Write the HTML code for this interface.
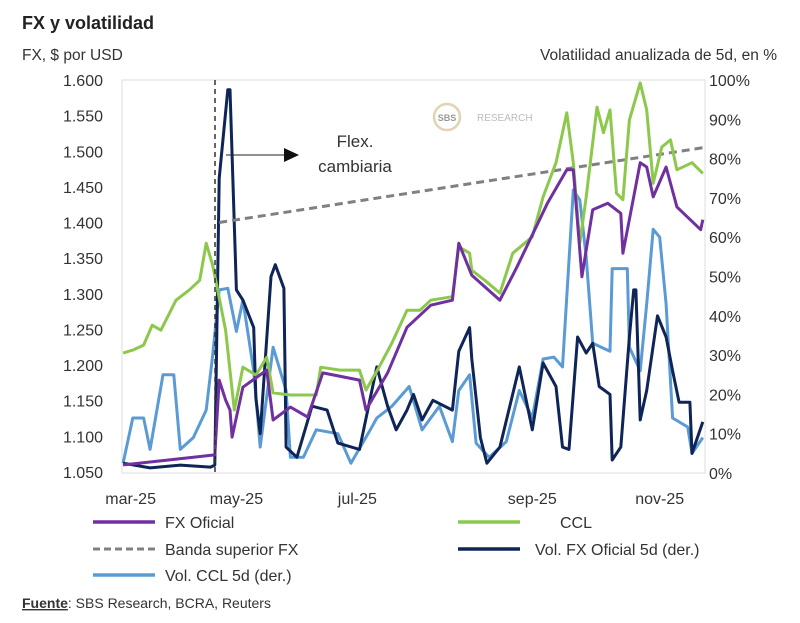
<!DOCTYPE html>
<html><head><meta charset="utf-8"><style>
body{margin:0;background:#fff;width:800px;height:618px;overflow:hidden;font-family:"Liberation Sans",sans-serif}
</style></head><body>
<svg id="c" width="800" height="618" xmlns="http://www.w3.org/2000/svg" font-family="Liberation Sans, sans-serif">
<text x="22" y="29" font-size="18" font-weight="bold" fill="#222">FX y volatilidad</text>
<text x="22" y="60" font-size="15.5" fill="#333">FX, $ por USD</text>
<text x="777" y="60" font-size="15.5" fill="#333" text-anchor="end">Volatilidad anualizada de 5d, en %</text>
<rect x="122" y="80" width="583" height="393" fill="none" stroke="#ddd"/>
<g>
<circle cx="447" cy="117" r="13" fill="none" stroke="#e3d3b5" stroke-width="2.5"/>
<text x="447" y="121" font-size="9" font-weight="bold" fill="#999" text-anchor="middle">SBS</text>
<text x="477" y="121" font-size="10" fill="#bbb">RESEARCH</text>
</g>
<g id="axes"></g>
<g id="series"></g>
<line x1="215" y1="80" x2="215" y2="473" stroke="#333" stroke-width="1.5" stroke-dasharray="5,4"/>
<line x1="226" y1="155" x2="285" y2="155" stroke="#222" stroke-width="1"/>
<polygon points="284,148 299,155 284,162" fill="#111"/>
<text x="355" y="147" font-size="17" fill="#333" text-anchor="middle">Flex.</text>
<text x="355" y="172" font-size="17" fill="#333" text-anchor="middle">cambiaria</text>
<g>
<line x1="93" y1="522" x2="155" y2="522" stroke="#7030a0" stroke-width="3.5"/>
<text x="165" y="528" font-size="16" fill="#333">FX Oficial</text>
<line x1="458" y1="522" x2="520" y2="522" stroke="#8cc84b" stroke-width="3.5"/>
<text x="560" y="528" font-size="16" fill="#333">CCL</text>
<line x1="93" y1="549" x2="155" y2="549" stroke="#808080" stroke-width="3" stroke-dasharray="7,4"/>
<text x="165" y="555" font-size="16" fill="#333">Banda superior FX</text>
<line x1="458" y1="549" x2="520" y2="549" stroke="#0f2557" stroke-width="3.5"/>
<text x="535" y="555" font-size="16" fill="#333">Vol. FX Oficial 5d (der.)</text>
<line x1="93" y1="575" x2="155" y2="575" stroke="#5b9bd5" stroke-width="3.5"/>
<text x="165" y="581" font-size="16" fill="#333">Vol. CCL 5d (der.)</text>
</g>
<text x="22" y="608" font-size="14" fill="#333"><tspan font-weight="bold" text-decoration="underline">Fuente</tspan>: SBS Research, BCRA, Reuters</text>
</svg>
<script>
const leftTicks=["1.050","1.100","1.150","1.200","1.250","1.300","1.350","1.400","1.450","1.500","1.550","1.600"];
const leftTickVals=[1.05,1.10,1.15,1.20,1.25,1.30,1.35,1.40,1.45,1.50,1.55,1.60];
const rightTicks=["0%","10%","20%","30%","40%","50%","60%","70%","80%","90%","100%"];
const rightTickVals=[0,10,20,30,40,50,60,70,80,90,100];
const xTickLabels=["mar-25","may-25","jul-25","sep-25","nov-25"];
const xTickDays=[4,53,109,190,249];
const cclDays=[0.5,5,10,14,18,25,31,36,39,42,44,48,52,56,62,67,70,78,90,92,101,110,113,119,125,132,138,143,153,156,161,162,168,175,181,190,195,201,206,209,212,215,220,223,226,229,232,235,240,243,246,250,254,257,264,269];
const cclVals=[1.217,1.221,1.228,1.256,1.249,1.291,1.305,1.319,1.371,1.340,1.310,1.249,1.137,1.197,1.186,1.211,1.161,1.158,1.158,1.197,1.193,1.193,1.165,1.197,1.231,1.277,1.277,1.291,1.296,1.366,1.357,1.333,1.319,1.301,1.357,1.380,1.436,1.484,1.554,1.484,1.371,1.436,1.562,1.526,1.558,1.441,1.432,1.544,1.596,1.558,1.455,1.506,1.516,1.474,1.484,1.469];
const fxDays=[0.5,22,43,45,48,50,51,56,67,70,78,86,93,110,113,123,132,143,153,156,162,175,183,197,206,209,213,218,225,231,232,237,240,243,246,252,257,268,269];
const fxVals=[1.060,1.067,1.074,1.179,1.151,1.137,1.099,1.169,1.193,1.123,1.141,1.127,1.189,1.179,1.137,1.189,1.253,1.284,1.291,1.371,1.326,1.291,1.338,1.427,1.474,1.474,1.324,1.418,1.427,1.413,1.357,1.436,1.484,1.478,1.436,1.478,1.422,1.390,1.404];
const bandDays=[45,269];
const bandVals=[1.400,1.505];
const volFxDays=[0.5,13,27,41,43,45,49,50,53,56,61,62,64,69,71,75,76,81,88,95,100,110,118,123,127,132,135,139,144,153,156,161,162,166,169,175,184,190,195,201,204,207,211,215,218,221,226,227,231,235,237,238,240,243,248,252,255,258,263,264,269];
const volFxVals=[2.5,1.3,2,1.5,2,75,97.5,97.5,46.6,44,37,19,10,50,53,47,6.6,4,17,16,7.6,6,27,17,11,16,20,13.5,18.5,16,31,37,29,9,2.5,6.6,27,11,28,22,6.6,6,34.6,30.5,33,22,20,3.3,6.6,34.6,46.6,46.6,13.5,21,40,34.6,26,18,18,5,13];
const volCclDays=[0.5,5,10,13,19,24,27,33,39,42,45,49,53,56,61,64,70,76,78,84,90,100,106,115,118,125,133,139,147,153,156,161,164,170,178,184,190,195,200,204,209,212,215,218,226,227,234,235,240,243,246,249,252,255,262,264,269];
const volCclVals=[2.5,14,14,6,25,25,6,9,16,30,46.6,47,36,44,26,6.6,32,21,4,4,11,10,2.5,11,14,17,22,11,17,8,21,25,7.6,4,8,21,14,29,29.5,27,72,69.5,55,33,31,52,52,32,26,43,62,60,43,14,11.7,5,9];

const NS="http://www.w3.org/2000/svg";
const X0=122,X1=705,Y0=473,Y1=80;
const D0=0,D1=270;
function xs(d){return X0+(d-D0)/(D1-D0)*(X1-X0);}
function yl(v){return 472-(v-1.05)/0.55*392;}
function yr(p){return Y0-p/100*(Y0-Y1);}
const axes=document.getElementById('axes'),ser=document.getElementById('series');
function mk(tag,attrs,parent,txt){const e=document.createElementNS(NS,tag);for(const k in attrs)e.setAttribute(k,attrs[k]);if(txt!==undefined)e.textContent=txt;parent.appendChild(e);return e;}
leftTicks.forEach((t,i)=>{
  const e=mk('text',{x:103,y:yl(leftTickVals[i])+6,'font-size':16,fill:'#333','text-anchor':'end'},axes,t);
  
  
});
rightTicks.forEach((t,i)=>{
  const e=mk('text',{x:709,y:yr(rightTickVals[i])+6,'font-size':16,fill:'#333'},axes,t);
  
  
});
xTickLabels.forEach((t,i)=>{
  const e=mk('text',{x:xs(xTickDays[i]),y:504,'font-size':16,fill:'#333','text-anchor':'middle'},axes,t);
  
  
});
function line(days,vals,yf,color,w,name,dash){
  const d=days.map((dd,i)=>(i?'L':'M')+xs(dd).toFixed(1)+','+yf(vals[i]).toFixed(1)).join('');
  const a={d:d,fill:'none',stroke:color,'stroke-width':w,'stroke-linejoin':'round'};
  if(dash)a['stroke-dasharray']=dash;
  const e=mk('path',a,ser);
  
  
}
line(volCclDays,volCclVals,yr,'#5b9bd5',3,'vol-ccl-line');
line(volFxDays,volFxVals,yr,'#0f2557',3,'vol-fx-oficial-line');
line(bandDays,bandVals,yl,'#808080',3,'banda-superior-line','8,5');
line(cclDays,cclVals,yl,'#8cc84b',3,'ccl-line');
line(fxDays,fxVals,yl,'#7030a0',3,'fx-oficial-line');
</script>
</body></html>
